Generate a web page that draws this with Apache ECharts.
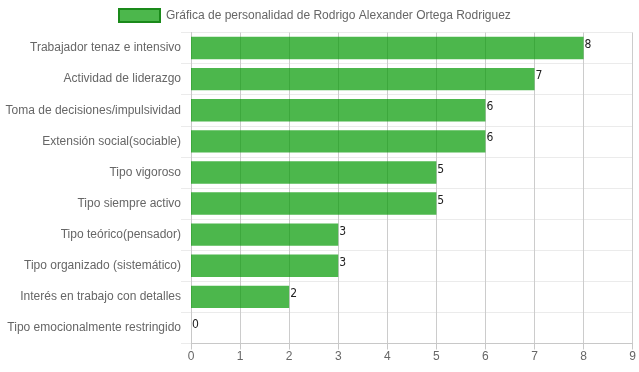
<!DOCTYPE html>
<html>
<head>
<meta charset="utf-8">
<script src="https://cdn.jsdelivr.net/npm/echarts@6/dist/echarts.min.js"></script>
<style>
html,body{margin:0;padding:0;background:#fff;}
#c{width:639px;height:372px;}
</style>
</head>
<body>
<div id="c"></div>
<script>
var categories = [
  "Trabajador tenaz e intensivo",
  "Actividad de liderazgo",
  "Toma de decisiones/impulsividad",
  "Extensión social(sociable)",
  "Tipo vigoroso",
  "Tipo siempre activo",
  "Tipo teórico(pensador)",
  "Tipo organizado (sistemático)",
  "Interés en trabajo con detalles",
  "Tipo emocionalmente restringido"
];
var values = [8, 7, 6, 6, 5, 5, 3, 3, 2, 0];
var seriesName = "Gráfica de personalidad de Rodrigo Alexander Ortega Rodriguez";

var chart = echarts.init(document.getElementById('c'), null, {renderer: 'canvas'});
chart.setOption({
  animation: false,
  textStyle: {fontFamily: 'Liberation Sans, Arial, sans-serif'},
  legend: {
    top: 3,
    left: 113,
    itemWidth: 41,
    itemHeight: 13,
    itemGap: 10,
    icon: 'rect',
    selectedMode: false,
    textStyle: {color: '#666', fontSize: 12, padding: [0, 0, 0, 1], fontFamily: 'Liberation Sans, Arial, sans-serif'},
    data: [{name: seriesName, icon: 'rect', itemStyle: {color: 'rgba(0,153,0,0.7)', borderColor: '#1a8a1a', borderWidth: 2}}]
  },
  grid: {left: 191, right: 6, top: 32.5, bottom: 28.5, containLabel: false},
  xAxis: {
    type: 'value',
    min: 0, max: 9, interval: 1,
    axisLine: {show: true, lineStyle: {color: '#c8c8c8', width: 1}},
    axisTick: {show: true, length: 6, lineStyle: {color: '#c8c8c8'}},
    axisLabel: {color: '#666', fontSize: 12, margin: 7, fontFamily: 'Liberation Sans, Arial, sans-serif'},
    splitLine: {show: true, lineStyle: {color: '#cccccc', width: 1}}
  },
  yAxis: {
    type: 'category',
    inverse: true,
    data: categories,
    axisLine: {show: true, lineStyle: {color: '#c8c8c8', width: 1}},
    axisTick: {show: true, length: 10, lineStyle: {color: '#ebebeb'}},
    axisLabel: {color: '#666', fontSize: 12, margin: 10, fontFamily: 'Liberation Sans, Arial, sans-serif'},
    splitLine: {show: true, lineStyle: {color: '#ebebeb', width: 1}}
  },
  series: [{
    name: seriesName,
    type: 'bar',
    data: values,
    barCategoryGap: '28%',
    itemStyle: {color: 'rgba(0,153,0,0.7)'},
    label: {
      show: true,
      position: 'right',
      distance: 1,
      offset: [0, -3],
      color: '#222',
      fontSize: 12,
      fontFamily: 'Liberation Sans Narrow, DejaVu Sans Condensed, sans-serif'
    }
  }]
});
</script>
</body>
</html>
